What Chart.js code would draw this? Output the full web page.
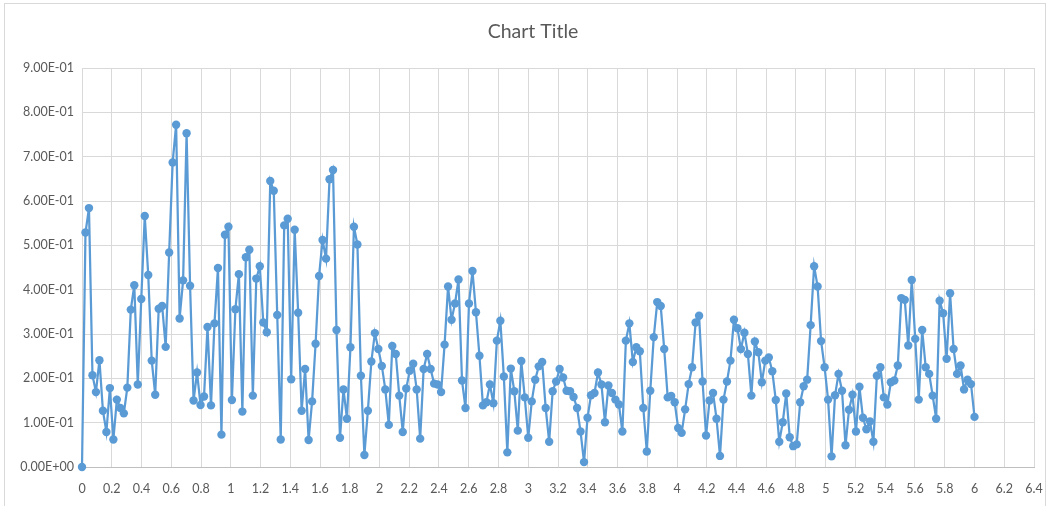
<!DOCTYPE html>
<html>
<head>
<meta charset="utf-8">
<script src="https://cdn.jsdelivr.net/npm/chart.js@4.4.1/dist/chart.umd.min.js"></script>
<style>
  html, body { margin: 0; padding: 0; background: #fff; }
  #wrap { position: relative; width: 1052px; height: 506px; overflow: hidden; }
  #frame { position: absolute; left: 4px; top: 3px; width: 1042px; height: 520px; border: 1px solid #d9d9d9; box-sizing: border-box; }
  canvas { position: absolute; left: 0; top: 0; }
</style>
</head>
<body>
<div id="wrap">
  <div id="frame"></div>
  <canvas id="js--chart--1" width="1052" height="506"></canvas>
</div>
<script>
// sample spacing on the x axis (257 samples from 0 to 6)
const xStep = 6 / 256;

const yValues = [
    0, 0.529, 0.584, 0.207, 0.169, 0.241, 0.127, 0.079, 0.178, 0.062,
    0.152, 0.133, 0.121, 0.179, 0.355, 0.410, 0.186, 0.379, 0.566, 0.433,
    0.240, 0.163, 0.357, 0.363, 0.271, 0.484, 0.687, 0.772, 0.335, 0.421,
    0.753, 0.409, 0.150, 0.213, 0.140, 0.159, 0.316, 0.139, 0.324, 0.449,
    0.073, 0.524, 0.542, 0.151, 0.356, 0.435, 0.125, 0.473, 0.490, 0.161,
    0.425, 0.453, 0.326, 0.304, 0.645, 0.623, 0.343, 0.062, 0.545, 0.560,
    0.198, 0.535, 0.348, 0.127, 0.221, 0.061, 0.148, 0.278, 0.431, 0.512,
    0.470, 0.649, 0.670, 0.309, 0.066, 0.175, 0.109, 0.270, 0.542, 0.502,
    0.206, 0.027, 0.127, 0.238, 0.302, 0.266, 0.228, 0.175, 0.095, 0.273,
    0.255, 0.161, 0.079, 0.177, 0.217, 0.233, 0.175, 0.064, 0.221, 0.255,
    0.221, 0.188, 0.186, 0.169, 0.276, 0.407, 0.332, 0.369, 0.423, 0.195,
    0.133, 0.369, 0.442, 0.349, 0.251, 0.139, 0.146, 0.186, 0.144, 0.285,
    0.330, 0.204, 0.033, 0.222, 0.171, 0.082, 0.239, 0.157, 0.066, 0.148,
    0.197, 0.227, 0.237, 0.133, 0.057, 0.171, 0.193, 0.221, 0.202, 0.172,
    0.171, 0.158, 0.133, 0.080, 0.011, 0.111, 0.162, 0.167, 0.213, 0.186,
    0.101, 0.184, 0.167, 0.152, 0.141, 0.080, 0.285, 0.324, 0.237, 0.270,
    0.261, 0.133, 0.035, 0.172, 0.293, 0.372, 0.363, 0.266, 0.157, 0.160,
    0.146, 0.088, 0.077, 0.130, 0.187, 0.225, 0.326, 0.341, 0.193, 0.071,
    0.150, 0.167, 0.109, 0.025, 0.152, 0.193, 0.240, 0.332, 0.313, 0.266,
    0.303, 0.255, 0.161, 0.283, 0.259, 0.191, 0.240, 0.247, 0.216, 0.151,
    0.057, 0.101, 0.166, 0.067, 0.047, 0.051, 0.146, 0.182, 0.197, 0.320,
    0.453, 0.407, 0.284, 0.225, 0.152, 0.024, 0.162, 0.210, 0.172, 0.049,
    0.129, 0.163, 0.080, 0.181, 0.111, 0.085, 0.103, 0.057, 0.206, 0.225,
    0.157, 0.141, 0.191, 0.195, 0.229, 0.381, 0.377, 0.274, 0.422, 0.289,
    0.152, 0.309, 0.225, 0.210, 0.161, 0.109, 0.375, 0.347, 0.244, 0.392,
    0.266, 0.210, 0.229, 0.175, 0.197, 0.187, 0.113
];

// axis ranges / tick steps
const xMin = 0, xMax = 6.4, xTickStep = 0.2;
const yMin = 0, yMax = 0.9, yTickStep = 0.1;

const chartTitle = "Chart Title";
const fontFamily = "Lato, 'Open Sans', sans-serif";

function sciLabel(v) {
    let s = Number(v).toExponential(2).toUpperCase();   // e.g. 9.00E-1
    let parts = s.split("E");
    let exp = parseInt(parts[1], 10);
    let sign = exp < 0 ? "-" : "+";
    let digits = String(Math.abs(exp)).padStart(2, "0");
    return parts[0] + "E" + sign + digits;
}

const points = yValues.map(function (y, i) {
    return { x: i * xStep, y: y };
});

// title is drawn centred on the whole frame, like the spreadsheet does
const titlePlugin = {
    id: "frameTitle",
    afterDraw: function (chart) {
        const ctx = chart.ctx;
        ctx.save();
        ctx.fillStyle = "#595959";
        ctx.font = "19.5px " + fontFamily;
        ctx.textAlign = "center";
        ctx.textBaseline = "middle";
        ctx.fillText(chartTitle, 533, 32);
        ctx.restore();
    }
};

const data = {
    datasets: [
        {
            label: "Series1",
            data: points,
            borderColor: "#5b9bd5",
            backgroundColor: "#5b9bd5",
            borderWidth: 2.25,
            pointRadius: 4.2,
            pointBorderWidth: 0,
            pointHoverRadius: 4.2,
            tension: 0,
            clip: false
        }
    ]
};

const config = {
    type: "line",
    data: data,
    plugins: [titlePlugin],
    options: {
        responsive: false,
        animation: false,
        layout: { padding: { left: 4, right: 18, top: 68, bottom: 8 } },
        plugins: {
            legend: { display: false },
            tooltip: { enabled: false },
            title: { display: false }
        },
        scales: {
            x: {
                type: "linear",
                min: xMin,
                max: xMax,
                ticks: {
                    stepSize: xTickStep,
                    color: "#595959",
                    font: { family: fontFamily, size: 12.5 },
                    padding: 14,
                    maxRotation: 0,
                    autoSkip: false,
                    callback: function (v) { return String(+Number(v).toFixed(1)); }
                },
                grid: { color: "#d9d9d9", drawTicks: false },
                border: { color: "#bfbfbf" },
                afterFit: function (scale) {
                    scale.height = 31;
                    scale.paddingLeft = 0;
                    scale.paddingRight = 0;
                }
            },
            y: {
                min: yMin,
                max: yMax,
                ticks: {
                    stepSize: yTickStep,
                    color: "#595959",
                    font: { family: fontFamily, size: 12.5 },
                    padding: 8,
                    callback: function (v) { return sciLabel(v); }
                },
                grid: { color: "#d9d9d9", drawTicks: false },
                border: { color: "#d9d9d9" },
                afterFit: function (scale) { scale.width = 78; }
            }
        }
    }
};

const chart1 = new Chart(document.getElementById("js--chart--1"), config);
</script>
</body>
</html>
